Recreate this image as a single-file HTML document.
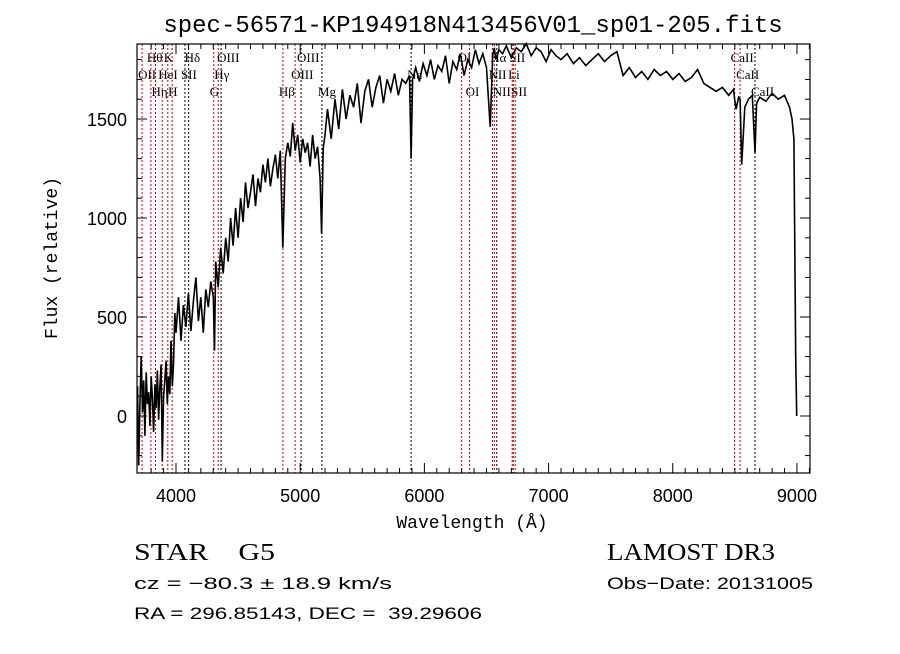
<!DOCTYPE html>
<html><head><meta charset="utf-8"><style>
body{margin:0;background:#fff;}
svg text{font-family:"Liberation Mono",monospace;white-space:pre;}
</style></head><body>
<svg id="chart" width="900" height="649" viewBox="0 0 900 649" xmlns="http://www.w3.org/2000/svg" xml:space="preserve">
<rect width="900" height="649" fill="#fff"/>
<text x="473" y="32" font-size="24" text-anchor="middle">spec-56571-KP194918N413456V01_sp01-205.fits</text>
<g id="lines"></g>
<g id="spec"></g>
<rect x="137" y="44" width="673" height="429" fill="none" stroke="#000" stroke-width="1.2"/>
<g id="ticks"></g>
<text x="472" y="528" font-size="18" text-anchor="middle">Wavelength (Å)</text>
<text transform="translate(57,258) rotate(-90)" font-size="18" text-anchor="middle">Flux (relative)</text>
<text x="134" y="560" font-size="24" textLength="141" lengthAdjust="spacingAndGlyphs" style="font-family:'Liberation Serif',serif">STAR    G5</text>
<text x="607" y="560" font-size="24" textLength="168" lengthAdjust="spacingAndGlyphs" style="font-family:'Liberation Serif',serif">LAMOST DR3</text>
<text x="134" y="589" font-size="17" textLength="258" lengthAdjust="spacingAndGlyphs" style="font-family:'Liberation Sans',sans-serif">cz = −80.3 ± 18.9 km/s</text>
<text x="607" y="589" font-size="17" textLength="206" lengthAdjust="spacingAndGlyphs" style="font-family:'Liberation Sans',sans-serif">Obs−Date: 20131005</text>
<text x="134" y="619" font-size="17" textLength="348" lengthAdjust="spacingAndGlyphs" style="font-family:'Liberation Sans',sans-serif">RA = 296.85143, DEC =  39.29606</text>
</svg>
<script>
const wave=[3690,3700,3710,3720,3730,3740,3750,3760,3770,3780,3790,3800,3810,3820,3830,3840,3850,3860,3870,3880,3890,3900,3910,3920,3930,3940,3950,3960,3970,3980,3990,4000,4020,4040,4060,4080,4100,4120,4140,4160,4180,4200,4220,4240,4260,4280,4300,4310,4320,4340,4360,4380,4400,4420,4440,4460,4480,4500,4520,4540,4560,4580,4600,4620,4640,4660,4680,4700,4720,4740,4760,4780,4800,4820,4840,4860,4880,4900,4920,4940,4960,4980,5000,5020,5040,5060,5080,5100,5120,5140,5160,5172,5185,5200,5220,5250,5280,5310,5340,5370,5400,5430,5460,5490,5520,5550,5580,5610,5640,5670,5700,5730,5760,5790,5820,5850,5880,5893,5905,5930,5960,5990,6020,6050,6080,6110,6140,6170,6200,6230,6260,6290,6320,6350,6380,6410,6440,6470,6500,6530,6550,6563,6575,6600,6630,6660,6700,6740,6780,6820,6860,6900,6940,6980,7020,7060,7100,7150,7200,7250,7300,7350,7400,7450,7500,7550,7600,7650,7700,7750,7800,7850,7900,7950,8000,8050,8100,8150,8200,8250,8300,8350,8400,8450,8490,8498,8510,8530,8542,8555,8580,8610,8640,8662,8675,8700,8750,8800,8850,8900,8940,8960,8975,8990,8998,9002,9006];
const flux=[150,-250,80,300,20,180,-100,220,60,120,-50,200,90,-80,160,40,230,-20,150,260,-230,100,180,280,60,200,110,380,150,260,520,420,600,380,560,450,620,430,580,700,480,600,420,640,550,680,600,330,780,650,850,720,900,780,1000,860,1050,900,1100,980,1180,1050,1130,1220,1060,1200,1130,1270,1180,1300,1160,1250,1320,1200,1340,850,1300,1380,1310,1480,1340,1420,1280,1400,1330,1380,1260,1420,1300,1360,1200,920,1350,1420,1550,1400,1600,1450,1650,1500,1620,1560,1680,1480,1640,1700,1560,1660,1720,1580,1700,1640,1730,1620,1700,1680,1720,1300,1700,1760,1690,1780,1720,1800,1700,1770,1740,1820,1680,1790,1750,1830,1720,1800,1760,1850,1780,1830,1760,1460,1820,1860,1800,1850,1830,1870,1810,1860,1840,1880,1820,1860,1840,1790,1850,1820,1800,1830,1780,1810,1770,1800,1830,1790,1820,1840,1720,1760,1710,1740,1700,1750,1720,1740,1700,1730,1690,1710,1750,1680,1660,1640,1660,1620,1650,1600,1550,1610,1600,1270,1560,1600,1620,1330,1580,1610,1590,1630,1600,1620,1560,1500,1400,300,0];
const lineWave=[3727,3798,3835,3889,3934,3969,4072,4102,4304,4340,4363,4861,4959,5007,5175,5893,6300,6364,6548,6563,6583,6707,6716,6731,8498,8542,8662];
const lineColor=["r","r","r","r","r","r","k","k","r","r","k","r","r","k","k","k","r","r","r","r","k","r","r","r","r","r","k"];
const labelText=["OII","Hθ","Hη","HeI","K","H","SII","Hδ","G","Hγ","OIII","Hβ","OIII","OIII","Mg","Na","OI","OI","NII","Hα","NII","Li","SII","SII","CaII","CaII","CaII"];
const labelRow=[1,0,2,1,0,2,1,0,2,1,0,2,1,0,2,1,0,2,1,0,2,1,0,2,0,1,2];
const xTicks=[4000,5000,6000,7000,8000,9000];
const yTicks=[0,500,1000,1500];
const X0=137,X1=810,Y0=473,Y1=44,WMIN=3686,WMAX=9105,FMIN=-288,FMAX=1879;
function xs(w){return X0+(w-WMIN)/(WMAX-WMIN)*(X1-X0);}
function ys(f){return Y0-(f-FMIN)/(FMAX-FMIN)*(Y0-Y1);}
const NS="http://www.w3.org/2000/svg";
const lg=document.getElementById('lines');
lineWave.forEach((w,i)=>{
  const l=document.createElementNS(NS,'line');
  
  
  const x=xs(w);
  l.setAttribute('x1',x);l.setAttribute('x2',x);l.setAttribute('y1',Y1);l.setAttribute('y2',Y0);
  l.setAttribute('stroke',lineColor[i]=="r"?"#c00000":"#000");
  l.setAttribute('stroke-width','1');l.setAttribute('stroke-dasharray','2,2');
  lg.appendChild(l);
  const t=document.createElementNS(NS,'text');
  
  
  t.setAttribute('x',x-4);t.setAttribute('y',62+labelRow[i]*17);
  t.setAttribute('font-size','13');t.setAttribute('style','font-family:"Liberation Serif",serif');
  t.textContent=labelText[i];
  lg.appendChild(t);
});
const p=document.createElementNS(NS,'polyline');


p.setAttribute('points',wave.map((w,i)=>xs(w).toFixed(1)+','+ys(flux[i]).toFixed(1)).join(' '));
p.setAttribute('fill','none');p.setAttribute('stroke','#000');p.setAttribute('stroke-width','1.6');
document.getElementById('spec').appendChild(p);
const tg=document.getElementById('ticks');
function ln(x1,y1,x2,y2){const l=document.createElementNS(NS,'line');


l.setAttribute('x1',x1);l.setAttribute('y1',y1);l.setAttribute('x2',x2);l.setAttribute('y2',y2);l.setAttribute('stroke','#000');tg.appendChild(l);}
for(let w=3800;w<=9100;w+=100){const x=xs(w);const m=(w%1000==0);const L=m?10:5;ln(x,Y0,x,Y0-L);ln(x,Y1,x,Y1+L);}
for(let f=-200;f<=1800;f+=100){const y=ys(f);const m=(f%500==0);const L=m?10:5;ln(X0,y,X0+L,y);ln(X1,y,X1-L,y);}
xTicks.forEach(w=>{const t=document.createElementNS(NS,'text');


t.setAttribute('x',xs(w));t.setAttribute('y',502);t.setAttribute('font-size','18');t.setAttribute('text-anchor','middle');t.setAttribute('style','font-family:"Liberation Sans",sans-serif');t.textContent=w;tg.appendChild(t);});
yTicks.forEach(f=>{const t=document.createElementNS(NS,'text');


t.setAttribute('x',127);t.setAttribute('y',ys(f)+7);t.setAttribute('font-size','18');t.setAttribute('text-anchor','end');t.setAttribute('style','font-family:"Liberation Sans",sans-serif');t.textContent=f;tg.appendChild(t);});
</script>
</body></html>
